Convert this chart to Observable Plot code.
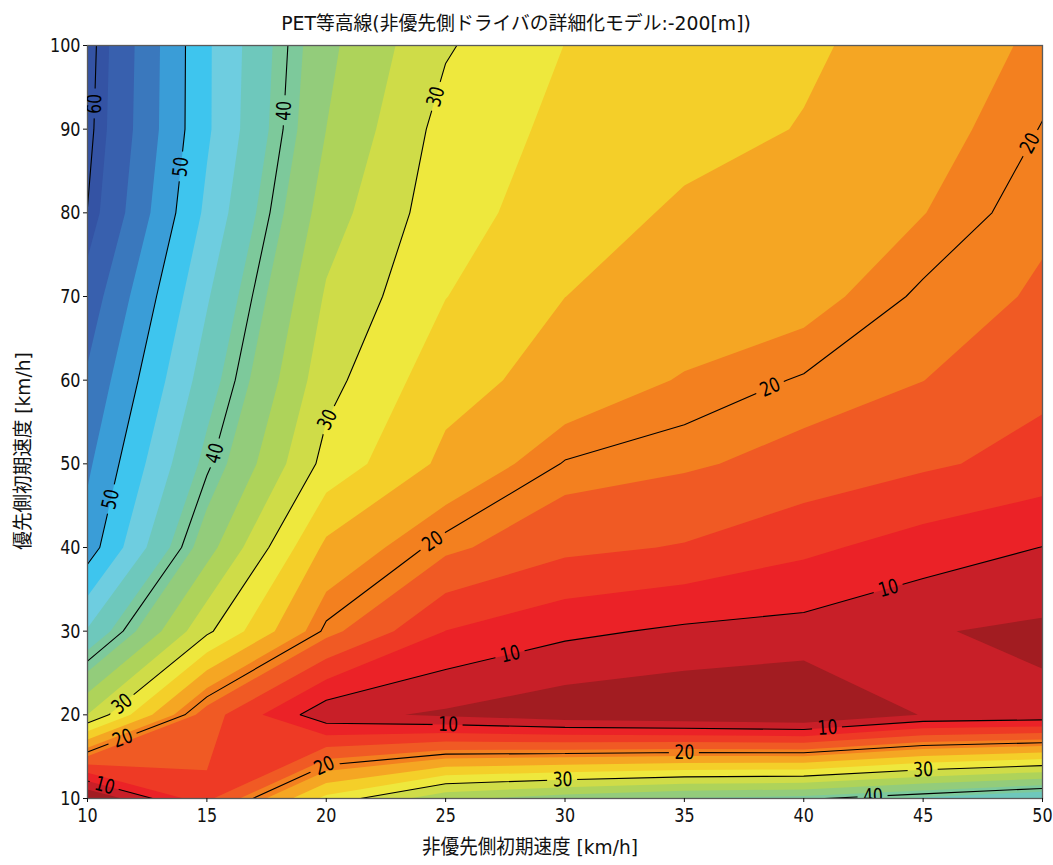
<!DOCTYPE html>
<html>
<head>
<meta charset="utf-8">
<script src="https://cdn.jsdelivr.net/npm/d3@7"></script>
<script src="https://cdn.jsdelivr.net/npm/@observablehq/plot@0.6"></script>
<style>
  body { margin: 0; background: #fff; }
  #wrap { position: relative; width: 1053px; height: 865px; overflow: hidden; }
  #chart { position: absolute; left: 0; top: 25px; z-index: 1; }
  #title { position: absolute; left: 516px; top: 8px; z-index: 2; transform: translateX(-50%) scaleX(0.99); white-space: nowrap;
           font-family: "Liberation Sans Narrow", "DejaVu Sans", "Noto Sans CJK JP", sans-serif; font-size: 19px; color: #111; }
</style>
</head>
<body>
<div id="wrap">
  <div id="chart"></div>
  <div id="title">PET等高線(非優先側ドライバの詳細化モデル:-200[m])</div>
</div>
<script>
// ---- data: grid axes ----
const xSpeeds = [10, 15, 20, 25, 30, 35, 40, 45, 50];          // 非優先側初期速度 [km/h]
const ySpeeds = [10, 20, 30, 40, 50, 60, 70, 80, 90, 100];     // 優先側初期速度 [km/h]

// ---- data: PET values, one row per priority-side speed ----
const pet_y10  = [4.0, 15.0, 28.0, 35.0, 37.2, 38.9, 39.6, 41.9, 44.4];
const pet_y20  = [32.8, 17.1, 8.0, 6.7, 5.2, 4.5, 3.7, 7.3, 7.8];
const pet_y30  = [44.0, 30.6, 19.5, 12.8, 10.65, 9.5, 9.0, 7.35, 6.6];
const pet_y40  = [51.5, 36.9, 23.6, 19.2, 16.4, 15.5, 13.5, 11.56, 9.95];
const pet_y50  = [53.4, 40.5, 29.0, 23.6, 19.85, 18.95, 17.66, 16.18, 14.7];
const pet_y60  = [55.3, 42.8, 31.0, 25.3, 23.2, 21.2, 19.8, 18.6, 16.4];
const pet_y70  = [57.4, 44.6, 32.5, 27.2, 24.3, 23.35, 22.4, 19.6, 18.3];
const pet_y80  = [59.95, 46.5, 34.2, 28.2, 25.8, 23.8, 22.6, 21.5, 18.9];
const pet_y90  = [60.7, 47.6, 35.7, 28.9, 26.45, 25.3, 24.15, 22.5, 19.9];
const pet_y100 = [61.0, 47.6, 36.4, 30.3, 27.1, 25.9, 24.7, 23.1, 20.9];

// ---- data: filled levels and colours ----
const fillLevels = [0, 7.14, 10, 12.86, 15.71, 18.57, 21.43, 24.29, 27.14, 30, 32.86, 35.71,
                    38.57, 41.43, 44.29, 47.14, 50, 52.86, 55.71, 58.57];
const fillColors = ["#a21c21", "#c81f28", "#eb2227", "#ee3a25", "#f05a24", "#f3801f", "#f5a623",
                    "#f4cf29", "#eee83d", "#cfdc48", "#aed35a", "#93cc7b", "#7dc99b", "#6ec8bc",
                    "#6ecde0", "#3ec5ee", "#3a9dd7", "#3a78bd", "#3860ae", "#3453a4"];

// ---- data: contour lines and their labels ----
const lineLevels = [10, 20, 30, 40, 50, 60];
const labelLevels = [60, 50, 40, 30, 20, 50, 40, 30, 20, 20, 30, 20, 10, 10, 10, 10, 10, 20, 20, 30, 30, 40];
const labelX = [10.54, 13.9, 18.2, 24.7, 49.5, 11.2, 15.65, 20.1, 38.6, 24.45, 11.5, 11.5, 27.7, 43.55, 25.1, 41.0, 10.7, 19.97, 35.0, 29.9, 45.0, 42.9];
const labelY = [93.0, 85.5, 92.2, 93.8, 88.3, 45.6, 51.0, 55.2, 59.1, 40.8, 21.1, 17.0, 27.4, 35.1, 18.4, 18.2, 11.3, 13.6, 15.5, 12.2, 13.4, 10.4];

const xTitle = "非優先側初期速度 [km/h]";
const yTitle = "優先側初期速度 [km/h]";

// ---- build ----
const rows = [pet_y10, pet_y20, pet_y30, pet_y40, pet_y50, pet_y60, pet_y70, pet_y80, pet_y90, pet_y100];
const grid = rows.flat();
const W = xSpeeds.length, H = ySpeeds.length;
const stepX = xSpeeds[1] - xSpeeds[0], stepY = ySpeeds[1] - ySpeeds[0];
const bounds = {
  width: W, height: H,
  x1: xSpeeds[0] - stepX / 2, x2: xSpeeds[W - 1] + stepX / 2,
  y1: ySpeeds[0] - stepY / 2, y2: ySpeeds[H - 1] + stepY / 2
};
const FONT = '"Liberation Sans Narrow","DejaVu Sans","Noto Sans CJK JP",sans-serif';
const xDom = [xSpeeds[0], xSpeeds[W - 1]], yDom = [ySpeeds[0], ySpeeds[H - 1]];
const SVG_W = 1053, SVG_H = 840;
const M = {top: 20, bottom: 67, left: 87, right: 11};

function makePlot(labelData) {
  const marks = [
    Plot.contour(grid, {...bounds, fill: Plot.identity, thresholds: fillLevels, clip: true}),
    Plot.contour(grid, {...bounds, value: Plot.identity, thresholds: lineLevels, fill: "none",
                        stroke: "black", strokeWidth: 1.1, clip: true}),
    Plot.frame({stroke: "#5a5a5a", strokeWidth: 1.3}),
    Plot.axisX({ticks: xSpeeds, tickSize: 4, tickPadding: 5, label: null, tickFormat: d => d, fontSize: 20}),
    Plot.axisY({ticks: ySpeeds, tickSize: 4, tickPadding: 3, label: null, tickFormat: d => d, fontSize: 20}),
    Plot.text([xTitle], {text: d => d, frameAnchor: "bottom", dx: -35, dy: 55, fontSize: 20}),
    Plot.text([yTitle], {text: d => d, frameAnchor: "left", fontSize: 20})
  ];
  if (labelData) {
    marks.push(Plot.text(labelData, {x: "x", y: "y", text: "text", rotate: "angle",
                                     fontSize: 20, fill: "black", clip: true}));
  }
  return Plot.plot({
    width: SVG_W, height: SVG_H,
    marginTop: M.top, marginBottom: M.bottom, marginLeft: M.left, marginRight: M.right,
    x: {domain: xDom},
    y: {domain: yDom},
    color: {type: "ordinal", domain: fillLevels, range: fillColors},
    style: {fontFamily: FONT, fontSize: "18px", background: "transparent", color: "#111"},
    marks
  });
}

// first pass: get the scales for label placement
const pass1 = makePlot(null);
const xs = pass1.scale("x"), ys = pass1.scale("y");

const gen = d3.contours().size([W, H]).smooth(true);
const labelData = [];
for (let i = 0; i < labelLevels.length; i++) {
  const lv = labelLevels[i];
  const geo = gen.contour(grid, lv);
  const ax = xs.apply(labelX[i]), ay = ys.apply(labelY[i]);
  let best = null;
  for (const poly of geo.coordinates) for (const ring of poly) {
    const pts = ring.map(([gx, gy]) => [bounds.x1 + gx * stepX, bounds.y1 + gy * stepY]);
    for (let j = 0; j + 1 < pts.length; j++) {
      const [u0, v0] = pts[j], [u1, v1] = pts[j + 1];
      const mu = (u0 + u1) / 2, mv = (v0 + v1) / 2;
      if (mu < xDom[0] || mu > xDom[1] || mv < yDom[0] || mv > yDom[1]) continue;
      const p0x = xs.apply(u0), p0y = ys.apply(v0), p1x = xs.apply(u1), p1y = ys.apply(v1);
      const ddx = p1x - p0x, ddy = p1y - p0y, len2 = ddx * ddx + ddy * ddy;
      if (len2 === 0) continue;
      let t = ((ax - p0x) * ddx + (ay - p0y) * ddy) / len2;
      t = Math.max(0, Math.min(1, t));
      const qx = p0x + t * ddx, qy = p0y + t * ddy;
      const d = (qx - ax) ** 2 + (qy - ay) ** 2;
      if (!best || d < best.d) {
        let a = Math.atan2(ddy, ddx) * 180 / Math.PI;
        while (a >= 90) a -= 180;
        while (a < -90) a += 180;
        best = {d, qx, qy, a};
      }
    }
  }
  if (best) {
    labelData.push({x: xs.invert(best.qx), y: ys.invert(best.qy), px: best.qx, py: best.qy,
                    angle: best.a, text: String(lv)});
  }
}

const svg = makePlot(labelData);
document.getElementById("chart").appendChild(svg);

// condensed look for all texts (the reference uses a narrow face)
function condenseText(t, s) {
  const tr = t.getAttribute("transform");
  if (tr) t.setAttribute("transform", tr + ` scale(${s},1)`);
  else {
    const x = +(t.getAttribute("x") || 0);
    t.setAttribute("transform", `translate(${x},0) scale(${s},1) translate(${-x},0)`);
  }
}
const allTextGroups = Array.from(svg.querySelectorAll("g")).filter(g => g.querySelector(":scope > text"));
const labelGroup = allTextGroups[allTextGroups.length - 1];
for (const g of allTextGroups) {
  for (const t of g.querySelectorAll(":scope > text")) {
    if (t.textContent === yTitle) {
      // vertical axis title: left of the tick labels, a little below the frame centre
      const cy = M.top + (SVG_H - M.top - M.bottom) / 2 + 29;
      t.removeAttribute("x"); t.removeAttribute("y"); t.removeAttribute("dx"); t.removeAttribute("dy");
      t.setAttribute("text-anchor", "middle");
      t.setAttribute("transform", `translate(29,${cy}) rotate(-90) scale(0.93,1)`);
      continue;
    }
    if (t.textContent === xTitle) { condenseText(t, 0.93); continue; }
    condenseText(t, g === labelGroup ? 0.78 : 0.8);
  }
}

// cut gaps into the contour lines under the labels
const NS = "http://www.w3.org/2000/svg";
const groups = svg.querySelectorAll('g[aria-label="contour"]');
if (groups.length >= 2) {
  const lineG = groups[1];
  const defs = document.createElementNS(NS, "defs");
  const mask = document.createElementNS(NS, "mask");
  mask.setAttribute("id", "labelGapMask");
  mask.setAttribute("maskUnits", "userSpaceOnUse");
  mask.setAttribute("x", 0); mask.setAttribute("y", 0);
  mask.setAttribute("width", SVG_W); mask.setAttribute("height", SVG_H);
  const bg = document.createElementNS(NS, "rect");
  bg.setAttribute("x", 0); bg.setAttribute("y", 0);
  bg.setAttribute("width", SVG_W); bg.setAttribute("height", SVG_H);
  bg.setAttribute("fill", "white");
  mask.appendChild(bg);
  for (const L of labelData) {
    const w = L.text.length * 9 + 12, h = 18;
    const r = document.createElementNS(NS, "rect");
    r.setAttribute("x", -w / 2); r.setAttribute("y", -h / 2);
    r.setAttribute("width", w); r.setAttribute("height", h);
    r.setAttribute("fill", "black");
    r.setAttribute("transform", `translate(${L.px},${L.py}) rotate(${L.angle})`);
    mask.appendChild(r);
  }
  defs.appendChild(mask);
  svg.insertBefore(defs, svg.firstChild);
  const wrapG = document.createElementNS(NS, "g");
  lineG.parentNode.insertBefore(wrapG, lineG);
  wrapG.appendChild(lineG);
  wrapG.setAttribute("mask", "url(#labelGapMask)");
}
</script>
</body>
</html>
